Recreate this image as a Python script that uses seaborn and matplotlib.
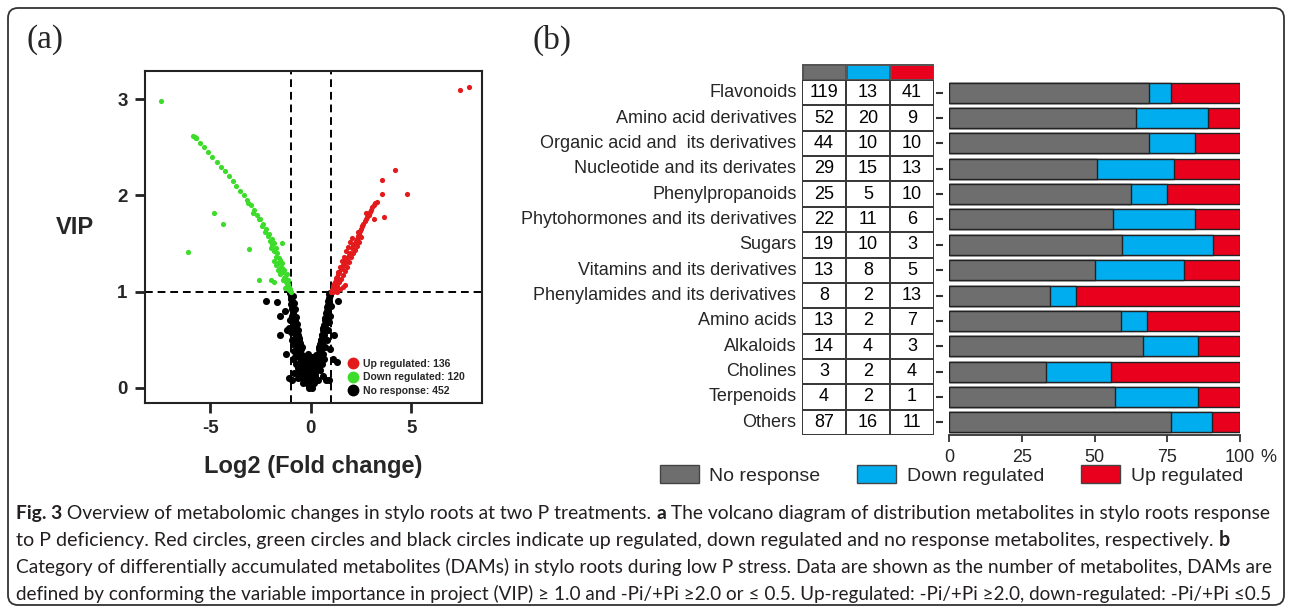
import numpy as np
import pandas as pd
import matplotlib
matplotlib.use("Agg")
import matplotlib.pyplot as plt
import seaborn as sns
from matplotlib.colors import ListedColormap
from matplotlib.patches import Patch, FancyBboxPatch
from matplotlib.lines import Line2D
from matplotlib.transforms import IdentityTransform

# ---------------- panel (a) data: volcano (Log2 FC, VIP) ----------------
none_x = [-1.02, -0.98, -1.00, -0.95, -0.97, -0.92, -0.94, -0.90, -0.88, -0.92,
          -0.85, -0.87, -0.82, -0.85, -0.80, -0.78, -0.82, -0.75, -0.77, -0.72,
          -0.70, -0.74, -0.68, -0.65, -0.70, -0.62, -0.60, -0.64, -0.56, -0.55,
          -0.58, -0.50, -0.48, -0.52, -0.44, -0.42, -0.46, -0.38, -0.35, -0.30,
          -0.32, -0.25, -0.22, -0.18, -0.12, -0.08,
          -0.90, -0.85, -0.80, -0.75, -0.70, -0.65, -0.60, -0.55, -0.50, -0.45,
          -0.40, -0.35, -0.30, -0.25, -0.20, -0.15, -0.10,
          -1.05, -1.10, -0.98, -0.95, -0.90, -0.85, -0.78, -0.72, -0.90, -0.62,
          -0.55, -0.65, -0.45, -0.40, -0.82, -0.95,
          0.98, 0.95, 0.92, 0.90, 0.93, 0.87, 0.85, 0.88, 0.82, 0.80,
          0.78, 0.82, 0.75, 0.72, 0.70, 0.74, 0.66, 0.64, 0.60, 0.63,
          0.56, 0.54, 0.50, 0.53, 0.46, 0.44, 0.40, 0.43, 0.36, 0.34,
          0.30, 0.32, 0.26, 0.22, 0.20, 0.16, 0.12, 0.08, 0.04, 0.00,
          0.90, 0.85, 0.80, 0.75, 0.70, 0.65, 0.60, 0.55, 0.50, 0.45,
          0.40, 0.35, 0.30, 0.25, 0.20, 0.15, 0.10,
          1.00, 0.97, 0.90, 0.85, 0.80, 0.72, 0.62, 0.55, 0.45, 0.60,
          0.75, 0.35, 0.68, 0.95,
          -0.20, -0.10, 0.00, 0.05, -0.05, 0.10, -0.15, 0.00, -0.05, 0.05,
          -0.10, 0.15,
          -0.36, -0.27, -0.14, -0.06, 0.07, 0.16, 0.26,
          -0.31, -0.19, -0.11, 0.02, 0.12, 0.21,
          -0.24, -0.13, -0.04, 0.06, 0.17,
          -0.46, -0.58, 0.40, 0.50, -0.70, -0.62, 0.55, 0.62,
          -0.78, 0.70, -0.88, 0.80,
          -2.24, -1.69, -1.53, -1.53, 1.37, 1.32, -1.20, -1.25, -1.10, 1.10,
          0.90, 1.15, -1.30, -0.28]
none_y = [0.98, 0.95, 0.92, 0.90, 0.87, 0.85, 0.82, 0.80, 0.77, 0.75,
          0.73, 0.70, 0.68, 0.66, 0.64, 0.62, 0.60, 0.58, 0.56, 0.54,
          0.52, 0.50, 0.48, 0.46, 0.44, 0.42, 0.40, 0.38, 0.36, 0.34,
          0.32, 0.30, 0.28, 0.26, 0.24, 0.22, 0.20, 0.18, 0.16, 0.14,
          0.12, 0.10, 0.08, 0.06, 0.04, 0.02,
          0.95, 0.88, 0.82, 0.74, 0.66, 0.60, 0.52, 0.46, 0.40, 0.34,
          0.30, 0.26, 0.22, 0.18, 0.14, 0.10, 0.06,
          0.70, 0.62, 0.58, 0.50, 0.45, 0.38, 0.32, 0.25, 0.30, 0.20,
          0.15, 0.10, 0.10, 0.05, 0.15, 0.08,
          0.98, 0.96, 0.93, 0.90, 0.88, 0.86, 0.83, 0.80, 0.78, 0.75,
          0.72, 0.70, 0.68, 0.65, 0.62, 0.60, 0.58, 0.55, 0.52, 0.50,
          0.48, 0.45, 0.42, 0.40, 0.38, 0.35, 0.32, 0.30, 0.28, 0.25,
          0.22, 0.20, 0.18, 0.15, 0.12, 0.10, 0.07, 0.05, 0.03, 0.02,
          0.97, 0.90, 0.84, 0.78, 0.72, 0.65, 0.60, 0.55, 0.50, 0.45,
          0.40, 0.35, 0.30, 0.25, 0.20, 0.15, 0.10,
          0.85, 0.75, 0.68, 0.60, 0.50, 0.42, 0.35, 0.25, 0.18, 0.12,
          0.08, 0.08, 0.30, 0.40,
          0.25, 0.18, 0.12, 0.20, 0.30, 0.28, 0.35, 0.08, 0.05, 0.00,
          0.00, 0.05,
          0.31, 0.28, 0.33, 0.27, 0.32, 0.29, 0.34,
          0.23, 0.21, 0.24, 0.20, 0.23, 0.19,
          0.16, 0.14, 0.17, 0.13, 0.15,
          0.42, 0.50, 0.42, 0.50, 0.60, 0.55, 0.55, 0.62,
          0.70, 0.70, 0.80, 0.80,
          0.90, 0.89, 0.75, 0.55, 0.90, 0.27, 0.60, 0.35, 0.10, 0.30,
          0.08, 0.55, 0.80, 0.10]

down_x = [-1.00, -1.05, -1.10, -1.15, -1.20, -1.26, -1.30, -1.37, -1.43, -1.50,
          -1.55, -1.60, -1.67, -1.75, -1.84, -1.93, -2.08, -2.22, -2.38, -2.53,
          -2.68, -2.84, -3.00, -3.17, -3.33, -3.50, -3.70, -3.85, -4.05, -4.25,
          -4.45, -4.66, -4.90, -5.10, -5.30, -5.50, -5.72, -5.85, -5.78, -5.70,
          -1.10, -1.18, -1.25, -1.35, -1.45, -1.55, -1.65, -1.75, -1.85, -1.95,
          -2.05, -2.15, -1.28, -1.40, -1.52, -1.62, -1.72, -1.82, -2.00, -2.30,
          -2.45, -2.60, -2.90, -3.10, -1.15, -1.20, -1.32, -1.45,
          -7.45, -6.09, -4.80, -4.35, -3.05, -2.60, -1.99, -1.41, -1.85]
down_y = [1.00, 1.03, 1.05, 1.08, 1.10, 1.13, 1.15, 1.20, 1.25, 1.30,
          1.33, 1.35, 1.40, 1.45, 1.50, 1.55, 1.60, 1.65, 1.70, 1.75,
          1.80, 1.85, 1.90, 1.95, 2.00, 2.05, 2.10, 2.15, 2.20, 2.25,
          2.30, 2.35, 2.40, 2.45, 2.50, 2.55, 2.60, 2.62, 2.61, 2.60,
          1.02, 1.06, 1.10, 1.14, 1.20, 1.25, 1.30, 1.36, 1.42, 1.48,
          1.53, 1.58, 1.04, 1.12, 1.18, 1.22, 1.28, 1.32, 1.45, 1.62,
          1.68, 1.76, 1.82, 1.92, 1.12, 1.18, 1.22, 1.30,
          2.98, 1.41, 1.82, 1.70, 1.44, 1.12, 1.12, 1.50, 1.10]

up_x = [1.00, 1.05, 1.10, 1.13, 1.18, 1.22, 1.27, 1.32, 1.37, 1.42,
        1.48, 1.55, 1.62, 1.70, 1.76, 1.82, 1.88, 1.93, 2.03, 2.10,
        2.20, 2.26, 2.32, 2.37, 2.42, 2.47, 2.52, 2.57, 2.62, 2.68,
        2.75, 2.82, 2.88, 2.94, 3.00, 3.07, 3.15, 3.22, 3.28,
        1.10, 1.20, 1.30, 1.40, 1.50, 1.60, 1.70, 1.80, 1.90, 2.00,
        2.10, 2.20, 2.30, 2.40, 2.50, 1.15, 1.25, 1.35, 1.45, 1.55,
        1.65, 1.75, 1.85, 1.95, 2.05, 1.30, 1.45, 1.60, 1.70, 2.35,
        2.55, 2.75,
        3.53, 3.53, 4.19, 4.81, 3.17, 3.63, 7.43, 7.89]
up_y = [1.00, 1.02, 1.04, 1.06, 1.08, 1.10, 1.12, 1.15, 1.18, 1.20,
        1.23, 1.25, 1.28, 1.30, 1.33, 1.35, 1.38, 1.40, 1.45, 1.48,
        1.50, 1.53, 1.55, 1.58, 1.60, 1.63, 1.65, 1.68, 1.70, 1.73,
        1.75, 1.78, 1.80, 1.83, 1.85, 1.88, 1.90, 1.92, 1.93,
        1.00, 1.03, 1.06, 1.10, 1.13, 1.17, 1.21, 1.26, 1.31, 1.36,
        1.40, 1.43, 1.47, 1.52, 1.57, 1.08, 1.14, 1.20, 1.26, 1.32,
        1.36, 1.42, 1.46, 1.52, 1.56, 1.00, 1.03, 1.05, 1.07, 1.62,
        1.68, 1.82,
        2.16, 2.02, 2.26, 2.01, 1.75, 1.78, 3.10, 3.13]

n_up, n_down, n_none = 136, 120, 452
vol_xticks = [-5, 0, 5]
vol_yticks = [0, 1, 2, 3]

# ---------------- panel (b) data ----------------
categories = ["Flavonoids", "Amino acid derivatives",
              "Organic acid and  its derivatives", "Nucleotide and its derivates",
              "Phenylpropanoids", "Phytohormones and its derivatives", "Sugars",
              "Vitamins and its derivatives", "Phenylamides and its derivatives",
              "Amino acids", "Alkaloids", "Cholines", "Terpenoids", "Others"]
no_response = [119, 52, 44, 29, 25, 22, 19, 13, 8, 13, 14, 3, 4, 87]
down_reg = [13, 20, 10, 15, 5, 11, 10, 8, 2, 2, 4, 2, 2, 16]
up_reg = [41, 9, 10, 13, 10, 6, 3, 5, 13, 7, 3, 4, 1, 11]
series_names = ["No response", "Down regulated", "Up regulated"]
pct_ticks = [0, 25, 50, 75, 100]

caption = [
    [("Fig. 3", True), (" Overview of metabolomic changes in stylo roots at two P treatments. ", False),
     ("a", True), (" The volcano diagram of distribution metabolites in stylo roots response", False)],
    [("to P deficiency. Red circles, green circles and black circles indicate up regulated, down regulated "
      "and no response metabolites, respectively. ", False), ("b", True)],
    [("Category of differentially accumulated metabolites (DAMs) in stylo roots during low P stress. "
      "Data are shown as the number of metabolites, DAMs are", False)],
    [("defined by conforming the variable importance in project (VIP) \u2265 1.0 and -Pi/+Pi \u22652.0 or "
      "\u2264 0.5. Up-regulated: -Pi/+Pi \u22652.0, down-regulated: -Pi/+Pi \u22640.5", False)],
]
caption_right = [1276, 1236, 1276, 1278]

# ---------------- styling ----------------
sns.set_style("white")
plt.rcParams["font.family"] = ["Liberation Sans", "DejaVu Sans"]
GRAY, BLUE, RED = "#6e6e6e", "#00aeef", "#e8001c"
VRED, VGREEN = "#e31a1c", "#3ddc2a"

W, H = 1292, 611
fig = plt.figure(figsize=(W / 100, H / 100), dpi=100)


def rect(l, t, r, b):
    return [l / W, 1 - b / H, (r - l) / W, (b - t) / H]


# outer rounded frame
frame = FancyBboxPatch((8, 6), 1276, 597, boxstyle="round,pad=0,rounding_size=10",
                       transform=IdentityTransform(), fill=False, ec="#333333", lw=1.3)
fig.add_artist(frame)

fig.text(27 / W, 1 - 40 / H, "(a)", fontsize=24, family=["Liberation Serif", "DejaVu Serif"],
         va="center", ha="left")
fig.text(533 / W, 1 - 40 / H, "(b)", fontsize=24, family=["Liberation Serif", "DejaVu Serif"],
         va="center", ha="left")

# ---------------- panel (a) ----------------
ax_v = fig.add_axes(rect(145, 71, 482, 403))
sns.scatterplot(x=none_x, y=none_y, color="black", s=26, linewidth=0, ax=ax_v, legend=False)
sns.scatterplot(x=down_x, y=down_y, color=VGREEN, s=14, linewidth=0, ax=ax_v, legend=False)
sns.scatterplot(x=up_x, y=up_y, color=VRED, s=14, linewidth=0, ax=ax_v, legend=False)
for xv in (-1, 1):
    ax_v.axvline(xv, color="black", lw=1.4, ls=(0, (4, 2.5)), zorder=0)
ax_v.axhline(1, color="black", lw=1.4, ls=(0, (4, 2.5)), zorder=0)
ax_v.set_xlim(-8.25, 8.52)
ax_v.set_ylim(-0.16, 3.295)
ax_v.set_xticks(vol_xticks)
ax_v.set_yticks(vol_yticks)
ax_v.set_xticklabels([f"{t}" for t in vol_xticks], fontsize=13.5, fontweight="bold")
ax_v.set_yticklabels([f"{t}" for t in vol_yticks], fontsize=13.5, fontweight="bold")
ax_v.tick_params(axis="both", direction="out", length=7.5, width=2, color="#222222",
                 bottom=True, left=True, pad=5)
for sp in ax_v.spines.values():
    sp.set_visible(True)
    sp.set_linewidth(1.5)
    sp.set_color("#222222")
ax_v.set_xlabel("Log2 (Fold change)", fontsize=17, fontweight="bold")
ax_v.xaxis.set_label_coords(0.5, (403 - 466) / 332)
ax_v.xaxis.label.set_va("center")
ax_v.set_ylabel("VIP", fontsize=17, fontweight="bold", rotation=0)
ax_v.yaxis.set_label_coords((75 - 145) / 337, (403 - 227) / 332)
ax_v.yaxis.label.set_va("center")
ax_v.yaxis.label.set_ha("center")
handles = [Line2D([], [], ls="", marker="o", ms=7.5, color=VRED),
           Line2D([], [], ls="", marker="o", ms=7.5, color=VGREEN),
           Line2D([], [], ls="", marker="o", ms=7.5, color="black")]
labels = [f"Up regulated: {n_up}", f"Down regulated: {n_down}", f"No response: {n_none}"]
ax_v.legend(handles, labels, loc="lower left", bbox_to_anchor=((343 - 145) / 337, 0.005),
            frameon=False, borderpad=0, handlelength=1, handletextpad=0.4, labelspacing=0.35,
            prop={"weight": "bold", "size": 7.5})

# ---------------- panel (b): table ----------------
counts = pd.DataFrame({"No response": no_response, "Down regulated": down_reg,
                       "Up regulated": up_reg}, index=categories)
ax_t = fig.add_axes(rect(802, 80, 934, 435))
sns.heatmap(counts, ax=ax_t, cmap=ListedColormap(["white"]), cbar=False, annot=True, fmt="d",
            annot_kws={"fontsize": 13, "color": "black"}, linewidths=1.2, linecolor="#3a3a3a",
            xticklabels=False, yticklabels=categories)
ax_t.tick_params(axis="y", length=0, pad=4, labelsize=13, left=False)
ax_t.set_yticklabels(categories, rotation=0, fontsize=13)
ax_t.set_ylabel("")
ax_t.set_xlabel("")

ax_h = fig.add_axes(rect(802, 64, 934, 80))
sns.heatmap(pd.DataFrame([[0, 1, 2]], columns=series_names), ax=ax_h,
            cmap=ListedColormap([GRAY, BLUE, RED]), vmin=0, vmax=2, cbar=False,
            linewidths=1, linecolor="#555555", xticklabels=False, yticklabels=False)
ax_h.set_xlabel("")
ax_h.set_ylabel("")

# ---------------- panel (b): stacked percentage bars ----------------
tot = np.array(no_response) + np.array(down_reg) + np.array(up_reg)
pct = pd.DataFrame({
    "category": categories,
    "all": (np.array(no_response) + np.array(down_reg) + np.array(up_reg)) / tot * 100,
    "gray_blue": (np.array(no_response) + np.array(down_reg)) / tot * 100,
    "gray": np.array(no_response) / tot * 100,
})
ax_b = fig.add_axes(rect(949, 80, 1240, 435))
for col, c in (("all", RED), ("gray_blue", BLUE), ("gray", GRAY)):
    sns.barplot(data=pct, y="category", x=col, orient="h", color=c, saturation=1,
                width=0.79, edgecolor="#222222", linewidth=1, errorbar=None, ax=ax_b)
ax_b.set_xlim(0, 100)
ax_b.set_ylim(len(categories) - 0.5, -0.5)
ax_b.set_xticks(pct_ticks)
ax_b.set_xticklabels([str(t) for t in pct_ticks], fontsize=13)
ax_b.set_yticks(range(len(categories)))
ax_b.set_yticklabels([])
ax_b.set_xlabel("")
ax_b.set_ylabel("")
for s in ("top", "right"):
    ax_b.spines[s].set_visible(False)
ax_b.spines["left"].set_position(("outward", 4))
ax_b.spines["left"].set_visible(False)
ax_b.spines["bottom"].set_linewidth(1.3)
ax_b.spines["bottom"].set_color("#333333")
ax_b.tick_params(axis="x", bottom=True, length=5, width=1.3, color="#333333", pad=5)
ax_b.tick_params(axis="y", left=True, length=5, width=1.5, color="#333333")
ax_b.annotate("%", xy=(100, 0), xycoords=("data", "axes fraction"), xytext=(15, -16),
              textcoords="offset points", fontsize=13, va="center", ha="left")

fig.legend([Patch(fc=GRAY, ec="#444444"), Patch(fc=BLUE, ec="#444444"), Patch(fc=RED, ec="#444444")],
           series_names, loc="center left", bbox_to_anchor=(650 / W, 1 - 475 / H), ncol=3,
           frameon=False, fontsize=14, handlelength=2.0, handleheight=1.0, handletextpad=0.55,
           columnspacing=1.9, borderpad=0)

# ---------------- caption ----------------
renderer = fig.canvas.get_renderer()
cap_font = ["Lato", "DejaVu Sans"]


def measure(txt, size, bold=False):
    t = fig.text(0, 0, txt, fontsize=size, family=cap_font, fontweight="bold" if bold else "normal")
    w = t.get_window_extent(renderer).width
    t.remove()
    return w


base = 14.0
line_y = [519, 546, 573, 600]
for segs, yb, right in zip(caption, line_y, caption_right):
    natural = sum(measure(txt, base, b) for txt, b in segs)
    size = base * (right - 16) / natural
    x = 16
    for txt, bold in segs:
        t = fig.text(x / W, 1 - yb / H, txt, fontsize=size, family=cap_font,
                     fontweight="bold" if bold else "normal", va="baseline", ha="left",
                     color="#231f20")
        x += t.get_window_extent(renderer).width

fig.savefig("out.png", dpi=100)
